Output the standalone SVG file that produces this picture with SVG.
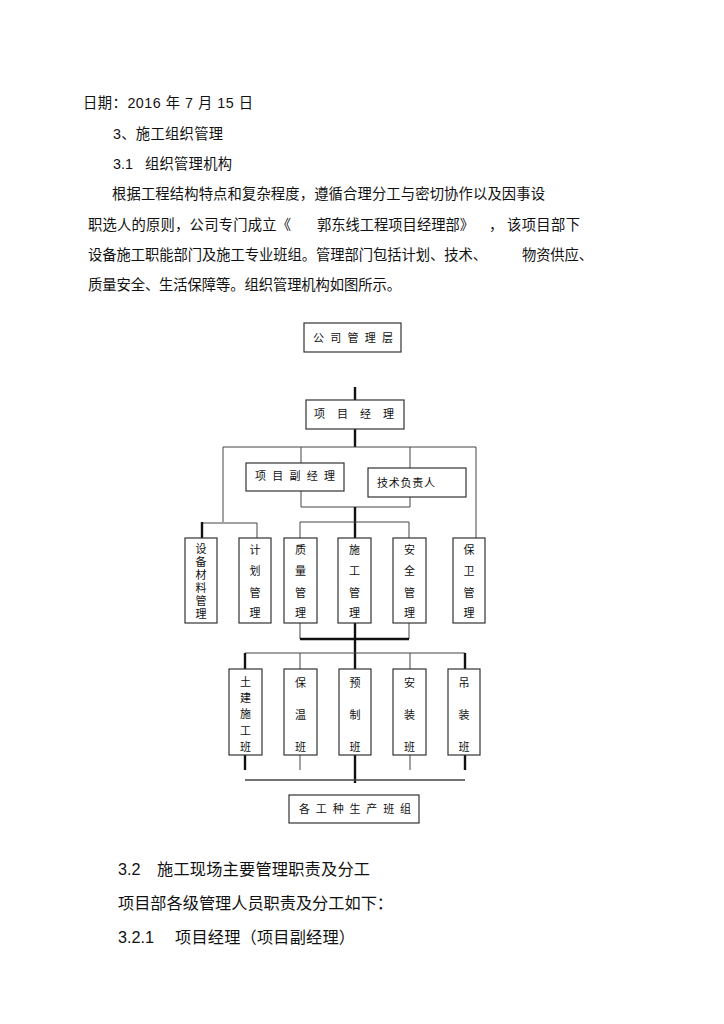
<svg xmlns="http://www.w3.org/2000/svg" width="724" height="1024" viewBox="0 0 724 1024">
<style>
.t{font-family:"Liberation Sans","Noto Sans CJK SC",sans-serif;font-size:14.3px;fill:#111}
.b{font-family:"Liberation Sans","Noto Sans CJK SC",sans-serif;font-size:16.2px;fill:#111}
.c{font-family:"Noto Sans CJK SC",sans-serif;font-size:11px;fill:#111}
.v{font-family:"Noto Sans CJK SC",sans-serif;font-size:11px;fill:#111;text-anchor:middle}
.vw{font-family:"Noto Sans CJK SC",sans-serif;font-size:11px;fill:#111;writing-mode:vertical-rl;letter-spacing:2px}
.box{fill:#fff;stroke:#333;stroke-width:1.2}
.thin{stroke:#444;stroke-width:1;fill:none}
.thick{stroke:#111;stroke-width:2.4;fill:none}
</style>
<rect width="724" height="1024" fill="#fff"/>
<g id="body-text">
<text class="t" x="83" y="108" textLength="170" lengthAdjust="spacing">日期：2016 年 7 月 15 日</text>
<text class="t" x="113" y="139" textLength="110" lengthAdjust="spacing">3、施工组织管理</text>
<text class="t" x="113" y="169">3.1</text>
<text class="t" x="145" y="169" textLength="87" lengthAdjust="spacing">组织管理机构</text>
<text class="t" x="112" y="199" textLength="433" lengthAdjust="spacing">根据工程结构特点和复杂程度，遵循合理分工与密切协作以及因事设</text>
<text class="t" x="88" y="230" textLength="203" lengthAdjust="spacing">职选人的原则，公司专门成立《</text>
<text class="t" x="317" y="230" textLength="157" lengthAdjust="spacing">郭东线工程项目经理部》</text>
<text class="t" x="489" y="230">，</text>
<text class="t" x="507" y="230" textLength="73" lengthAdjust="spacing">该项目部下</text>
<text class="t" x="88" y="260" textLength="399" lengthAdjust="spacing">设备施工职能部门及施工专业班组。管理部门包括计划、技术、</text>
<text class="t" x="522" y="260" textLength="71" lengthAdjust="spacing">物资供应、</text>
<text class="t" x="88" y="290" textLength="313" lengthAdjust="spacing">质量安全、生活保障等。组织管理机构如图所示。</text>
</g>
<g id="connectors">
<line class="thick" x1="355" y1="387" x2="355" y2="400"/>
<line class="thick" x1="355" y1="429" x2="355" y2="447"/>
<polyline class="thin" points="223,522 223,447 476,447 476,538"/>
<line class="thin" x1="301" y1="447" x2="301" y2="463"/>
<line class="thin" x1="410" y1="447" x2="410" y2="468"/>
<polyline class="thin" points="301,491 301,507 410,507 410,497"/>
<line class="thick" x1="355" y1="507" x2="355" y2="538"/>
<polyline class="thin" points="300,538 300,522 409,522 409,538"/>
<line class="thin" x1="202" y1="523" x2="257" y2="523"/>
<line class="thick" x1="202" y1="522" x2="202" y2="538"/>
<line class="thin" x1="257" y1="523" x2="257" y2="538"/>
<line class="thin" x1="300" y1="623" x2="300" y2="639"/>
<line class="thin" x1="409" y1="623" x2="409" y2="639"/>
<line class="thick" x1="300" y1="639" x2="409" y2="639"/>
<line class="thick" x1="355" y1="623" x2="355" y2="669"/>
<line class="thin" x1="245" y1="653" x2="465" y2="653"/>
<line class="thick" x1="245" y1="653" x2="245" y2="669"/>
<line class="thin" x1="300" y1="653" x2="300" y2="669"/>
<line class="thin" x1="410" y1="653" x2="410" y2="669"/>
<line class="thick" x1="465" y1="653" x2="465" y2="669"/>
<line class="thick" x1="245" y1="755" x2="245" y2="770"/>
<line class="thin" x1="300" y1="755" x2="300" y2="770"/>
<line class="thick" x1="355" y1="755" x2="355" y2="783"/>
<line class="thin" x1="410" y1="755" x2="410" y2="770"/>
<line class="thick" x1="465" y1="755" x2="465" y2="770"/>
<line class="thin" x1="245" y1="780" x2="465" y2="780" style="stroke-width:1.4"/>
</g>
<g id="company">
<rect class="box" x="304" y="323" width="97" height="29"/>
<text class="c" x="313" y="342" textLength="80" lengthAdjust="spacing">公司管理层</text>
</g>
<g id="pm">
<rect class="box" x="306" y="400" width="98" height="29"/>
<text class="c" x="314" y="418" textLength="80" lengthAdjust="spacing">项目经理</text>
</g>
<g id="deputy-pm">
<rect class="box" x="246" y="463" width="98" height="28"/>
<text class="c" x="255" y="480" textLength="80" lengthAdjust="spacing">项目副经理</text>
</g>
<g id="tech">
<rect class="box" x="368" y="468" width="98" height="29"/>
<text class="c" x="377" y="487" textLength="58" lengthAdjust="spacing">技术负责人</text>
</g>
<g id="equip">
<rect class="box" x="185" y="538" width="32" height="85"/>
<text class="vw" x="201" y="543.5">设备材料管理</text>
</g>
<g id="plan">
<rect class="box" x="239" y="538" width="32" height="85"/>
<text class="v"><tspan x="255" y="554">计</tspan><tspan x="255" y="575">划</tspan><tspan x="255" y="597">管</tspan><tspan x="255" y="617">理</tspan></text>
</g>
<g id="quality">
<rect class="box" x="284" y="538" width="33" height="85"/>
<text class="v"><tspan x="300.5" y="554">质</tspan><tspan x="300.5" y="575">量</tspan><tspan x="300.5" y="597">管</tspan><tspan x="300.5" y="617">理</tspan></text>
</g>
<g id="construction">
<rect class="box" x="338" y="538" width="33" height="85"/>
<text class="v"><tspan x="354.5" y="554">施</tspan><tspan x="354.5" y="575">工</tspan><tspan x="354.5" y="597">管</tspan><tspan x="354.5" y="617">理</tspan></text>
</g>
<g id="safety">
<rect class="box" x="393" y="538" width="33" height="85"/>
<text class="v"><tspan x="409.5" y="554">安</tspan><tspan x="409.5" y="575">全</tspan><tspan x="409.5" y="597">管</tspan><tspan x="409.5" y="617">理</tspan></text>
</g>
<g id="security">
<rect class="box" x="453" y="538" width="32" height="85"/>
<text class="v"><tspan x="469" y="554">保</tspan><tspan x="469" y="575">卫</tspan><tspan x="469" y="597">管</tspan><tspan x="469" y="617">理</tspan></text>
</g>
<g id="civil">
<rect class="box" x="229" y="669" width="33" height="86"/>
<text class="v"><tspan x="245.5" y="686">土</tspan><tspan x="245.5" y="702">建</tspan><tspan x="245.5" y="718">施</tspan><tspan x="245.5" y="735">工</tspan><tspan x="245.5" y="751">班</tspan></text>
</g>
<g id="insulation">
<rect class="box" x="284" y="669" width="33" height="86"/>
<text class="v"><tspan x="300.5" y="687">保</tspan><tspan x="300.5" y="719">温</tspan><tspan x="300.5" y="751">班</tspan></text>
</g>
<g id="prefab">
<rect class="box" x="339" y="669" width="32" height="86"/>
<text class="v"><tspan x="355" y="687">预</tspan><tspan x="355" y="719">制</tspan><tspan x="355" y="751">班</tspan></text>
</g>
<g id="install">
<rect class="box" x="393" y="669" width="33" height="86"/>
<text class="v"><tspan x="409.5" y="687">安</tspan><tspan x="409.5" y="719">装</tspan><tspan x="409.5" y="751">班</tspan></text>
</g>
<g id="hoist">
<rect class="box" x="448" y="669" width="32" height="86"/>
<text class="v"><tspan x="464" y="687">吊</tspan><tspan x="464" y="719">装</tspan><tspan x="464" y="751">班</tspan></text>
</g>
<g id="teams">
<rect class="box" x="289" y="795" width="130" height="28"/>
<text class="c" x="299" y="813" textLength="112" lengthAdjust="spacing">各工种生产班组</text>
</g>
<g id="bottom-text">
<text class="b" x="118" y="875">3.2</text>
<text class="b" x="157" y="875" textLength="213" lengthAdjust="spacing">施工现场主要管理职责及分工</text>
<text class="b" x="118" y="909" textLength="275" lengthAdjust="spacing">项目部各级管理人员职责及分工如下：</text>
<text class="b" x="118" y="943">3.2.1</text>
<text class="b" x="175" y="943" textLength="180" lengthAdjust="spacing">项目经理（项目副经理）</text>
</g>
</svg>
